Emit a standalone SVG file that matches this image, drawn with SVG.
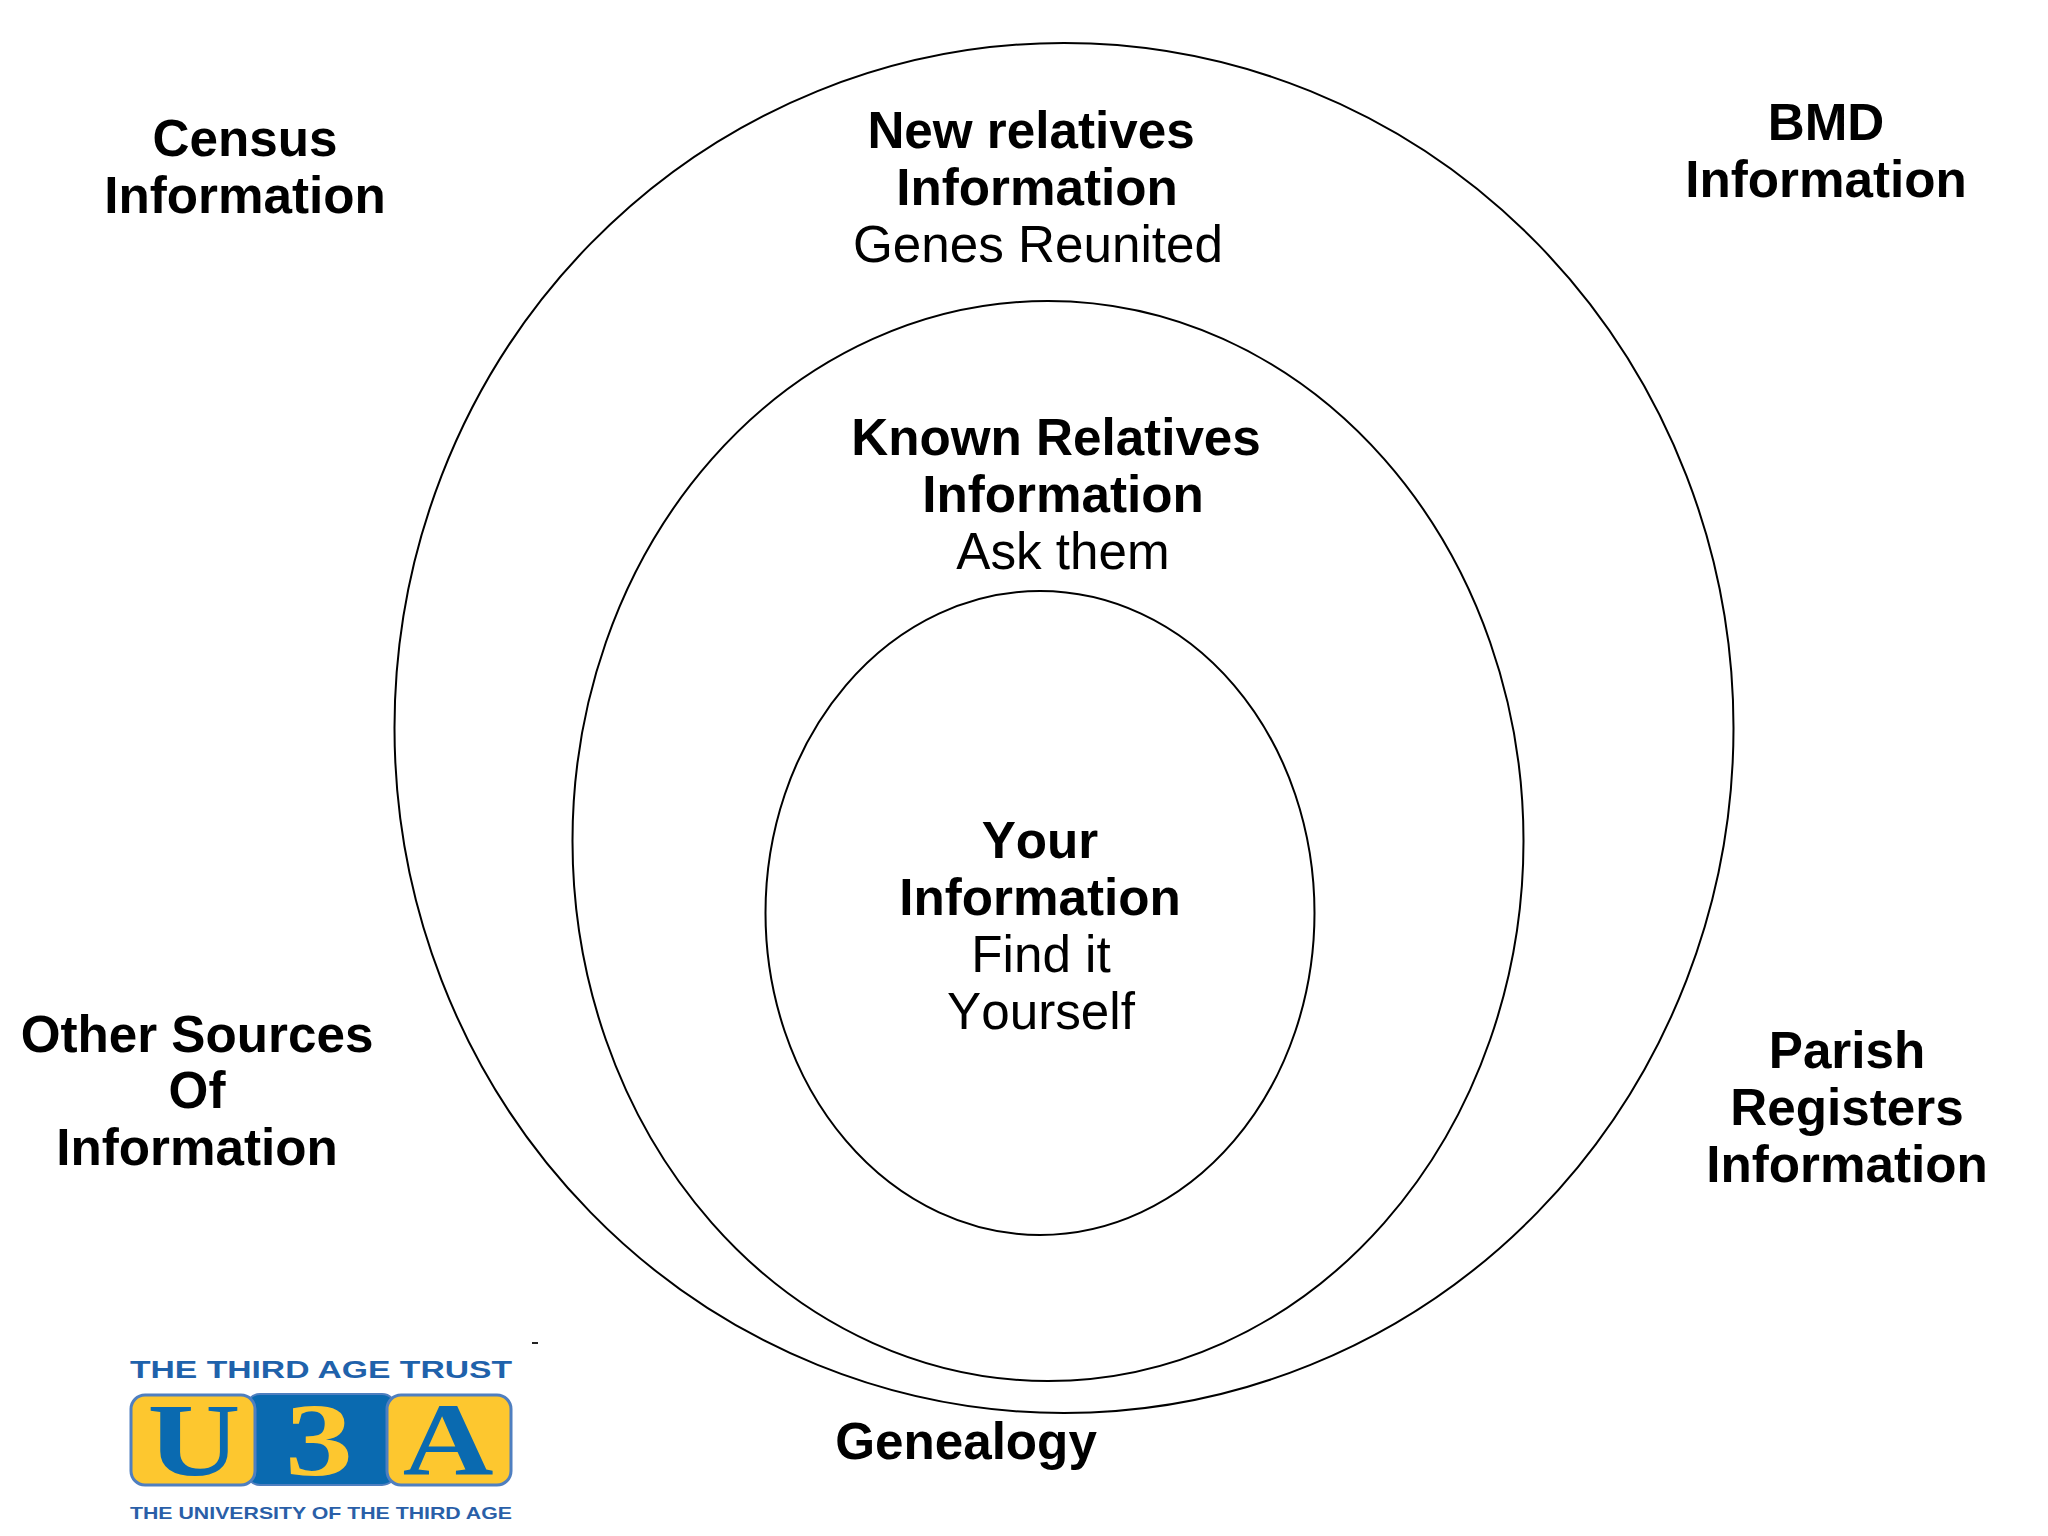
<svg xmlns="http://www.w3.org/2000/svg" width="2048" height="1536" viewBox="0 0 2048 1536">
<style>
.c{fill:none;stroke:#000;stroke-width:2}
text{font-family:"Liberation Sans",Arial,sans-serif;font-size:51.200px;text-anchor:middle;fill:#000}
.b{font-weight:bold}
.k{font-kerning:none}
.l{font-family:"Liberation Serif",serif;font-weight:bold;font-size:103px}
.s{fill:#fdc72f;stroke:#4f7fc0;stroke-width:3}
</style>
<rect width="2048" height="1536" fill="#fff"/>
<g id="outer"><ellipse class="c" cx="1064" cy="728" rx="669.500" ry="685"/>
<text class="b" x="1031" y="148">New relatives</text><text class="b" x="1037" y="205">Information</text><text x="1038" y="262">Genes Reunited</text></g>
<g id="middle"><ellipse class="c" cx="1048" cy="841" rx="475.500" ry="540"/>
<text class="b" x="1056" y="455">Known Relatives</text><text class="b" x="1063" y="512">Information</text><text x="1063" y="569">Ask them</text></g>
<g id="inner"><ellipse class="c" cx="1040" cy="913" rx="274.500" ry="322"/>
<text class="b k" x="1040" y="858">Your</text><text class="b" x="1040" y="915">Information</text><text x="1041" y="972">Find it</text><text class="k" x="1041" y="1029">Yourself</text></g>
<g id="census"><text class="b" x="245" y="156">Census</text><text class="b" x="245" y="213">Information</text></g>
<g id="bmd"><text class="b" x="1826" y="140">BMD</text><text class="b" x="1826" y="197">Information</text></g>
<g id="other"><text class="b" x="197" y="1052">Other Sources</text><text class="b" x="197" y="1108">Of</text><text class="b" x="197" y="1165">Information</text></g>
<g id="parish"><text class="b" x="1847" y="1068">Parish</text><text class="b" x="1847" y="1125">Registers</text><text class="b" x="1847" y="1182">Information</text></g>
<g id="genealogy"><text class="b" x="966" y="1459">Genealogy</text></g>
<g id="logo">
<rect x="532" y="1342" width="6" height="2" fill="#222"/>
<text class="b" x="321" y="1378" style="font-size:24px;fill:#1f62ab" textLength="382" lengthAdjust="spacingAndGlyphs">THE THIRD AGE TRUST</text>
<rect x="246" y="1394" width="150" height="91" rx="14" fill="#0a6ab0" stroke="#4f7fc0" stroke-width="2"/>
<rect class="s" x="131" y="1395" width="124" height="90" rx="14"/>
<rect class="s" x="387" y="1395" width="124" height="90" rx="14"/>
<text class="l" transform="translate(194 1475) scale(1.25 1)" style="fill:#0a6ab0">U</text>
<text class="l" transform="translate(319 1475) scale(1.32 1)" style="fill:#fdc72f">3</text>
<text class="l" transform="translate(448 1475) scale(1.22 1)" style="fill:#0a6ab0">A</text>
<text class="b" x="321" y="1519" style="font-size:16.500px;fill:#2a5fa8" textLength="382" lengthAdjust="spacingAndGlyphs">THE UNIVERSITY OF THE THIRD AGE</text>
</g>
</svg>
